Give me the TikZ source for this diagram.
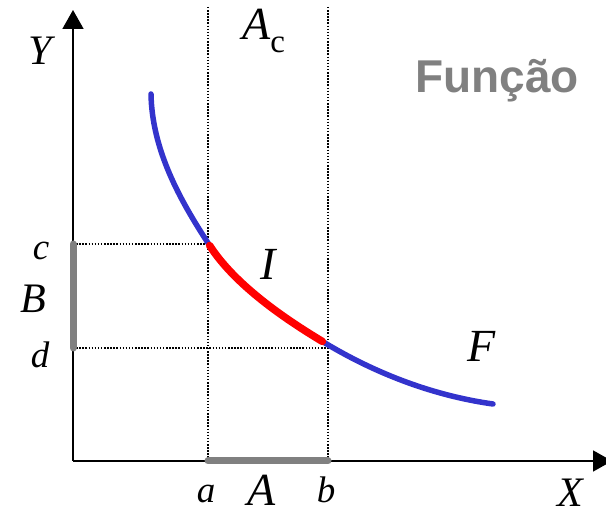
\documentclass[tikz,border=0pt]{standalone}
\usepackage{fontspec}
\setmainfont{Liberation Serif}
\newfontfamily\headfont{Liberation Sans}
\usetikzlibrary{arrows.meta}
\definecolor{crvblue}{HTML}{3333CC}
\definecolor{crvred}{HTML}{FF0000}
\definecolor{bargray}{HTML}{808080}
\tikzset{
  % axes and guides
  ax/.style={draw=black,line width=1.8pt,-{Triangle[length=19pt,width=21pt]}},
  guide/.style={draw=black,line width=1.8pt,dash pattern=on 1.5pt off 1.6pt},
  seg/.style={draw=bargray,line width=7pt,line cap=round},
  % curve
  crv/.style={draw=crvblue,line width=5.5pt,line cap=round},
  part/.style={draw=crvred,line width=7.5pt,line cap=round},
  % labels
  sl/.style={anchor=base,inner sep=0pt,text depth=0pt,font=\fontsize{37}{40}\selectfont\itshape},
  bl/.style={anchor=base,inner sep=0pt,text depth=0pt,font=\fontsize{46}{50}\selectfont\itshape},
  ml/.style={anchor=base,inner sep=0pt,text depth=0pt,font=\fontsize{42}{46}\selectfont\itshape},
}

\begin{document}
\begin{tikzpicture}[x=1pt,y=-1pt]
  \useasboundingbox (0,0) rectangle (606,518);
  \coordinate (O) at (73,461);
  \coordinate (ytip) at (73,10);
  \coordinate (xtip) at (612,461);
  \coordinate (a0) at (208,461);
  \coordinate (b0) at (328,461);
  \coordinate (at) at (208,7);
  \coordinate (bt) at (328,7);
  \coordinate (c0) at (73,244);
  \coordinate (d0) at (73,348);
  \coordinate (pc) at (208,244);
  \coordinate (pd) at (328,348);
  \coordinate (f0) at (151,94);
  \coordinate (f1) at (208,243);
  \coordinate (f2) at (325,343);
  \coordinate (f3) at (493,404);
  % guides
  \draw[guide] (at) -- (a0);
  \draw[guide] (bt) -- (b0);
  \draw[guide] (c0) -- (pc);
  \draw[guide] (d0) -- (pd);
  % axes
  \draw[ax] (O) -- (ytip);
  \draw[ax] (O) -- (xtip);
  \draw[seg] (c0) -- (d0);
  \draw[seg] (a0) -- (b0);
  % F and I
  \draw[crv] (f0) .. controls (152,150) and (180,200) .. (f1)
    .. controls (235,285) and (285,319) .. (f2)
    .. controls (385,379) and (443,397) .. (f3);
  \draw[part,shorten <=3pt,shorten >=3pt] (f1) .. controls (235,285) and (285,319) .. (f2);
  % labels
  \node[ml] (lY) at (40,65) {Y};
  \node[anchor=base west,inner sep=0pt,font=\fontsize{46}{50}\selectfont] (lAc) at (242,40)
    {\textit{A}\raisebox{-13pt}{\fontsize{33}{36}\selectfont c}};
  \node[anchor=base,inner sep=0pt,text=bargray,font=\headfont\bfseries\fontsize{46}{50}\selectfont]
    (lFun) at (497,93) {Função};
  \node[sl] (lc) at (41,260) {c};
  \node[ml] (lB) at (33,313) {B};
  \node[sl] (ld) at (40,368) {d};
  \node[bl] (lI) at (268,280) {I};
  \node[bl] (lF) at (482,362) {F};
  \node[sl] (la) at (206,503) {a};
  \node[bl] (lA) at (262,506) {A};
  \node[sl] (lb) at (326,503) {b};
  \node[ml] (lX) at (570,507) {X};
\end{tikzpicture}
\end{document}
